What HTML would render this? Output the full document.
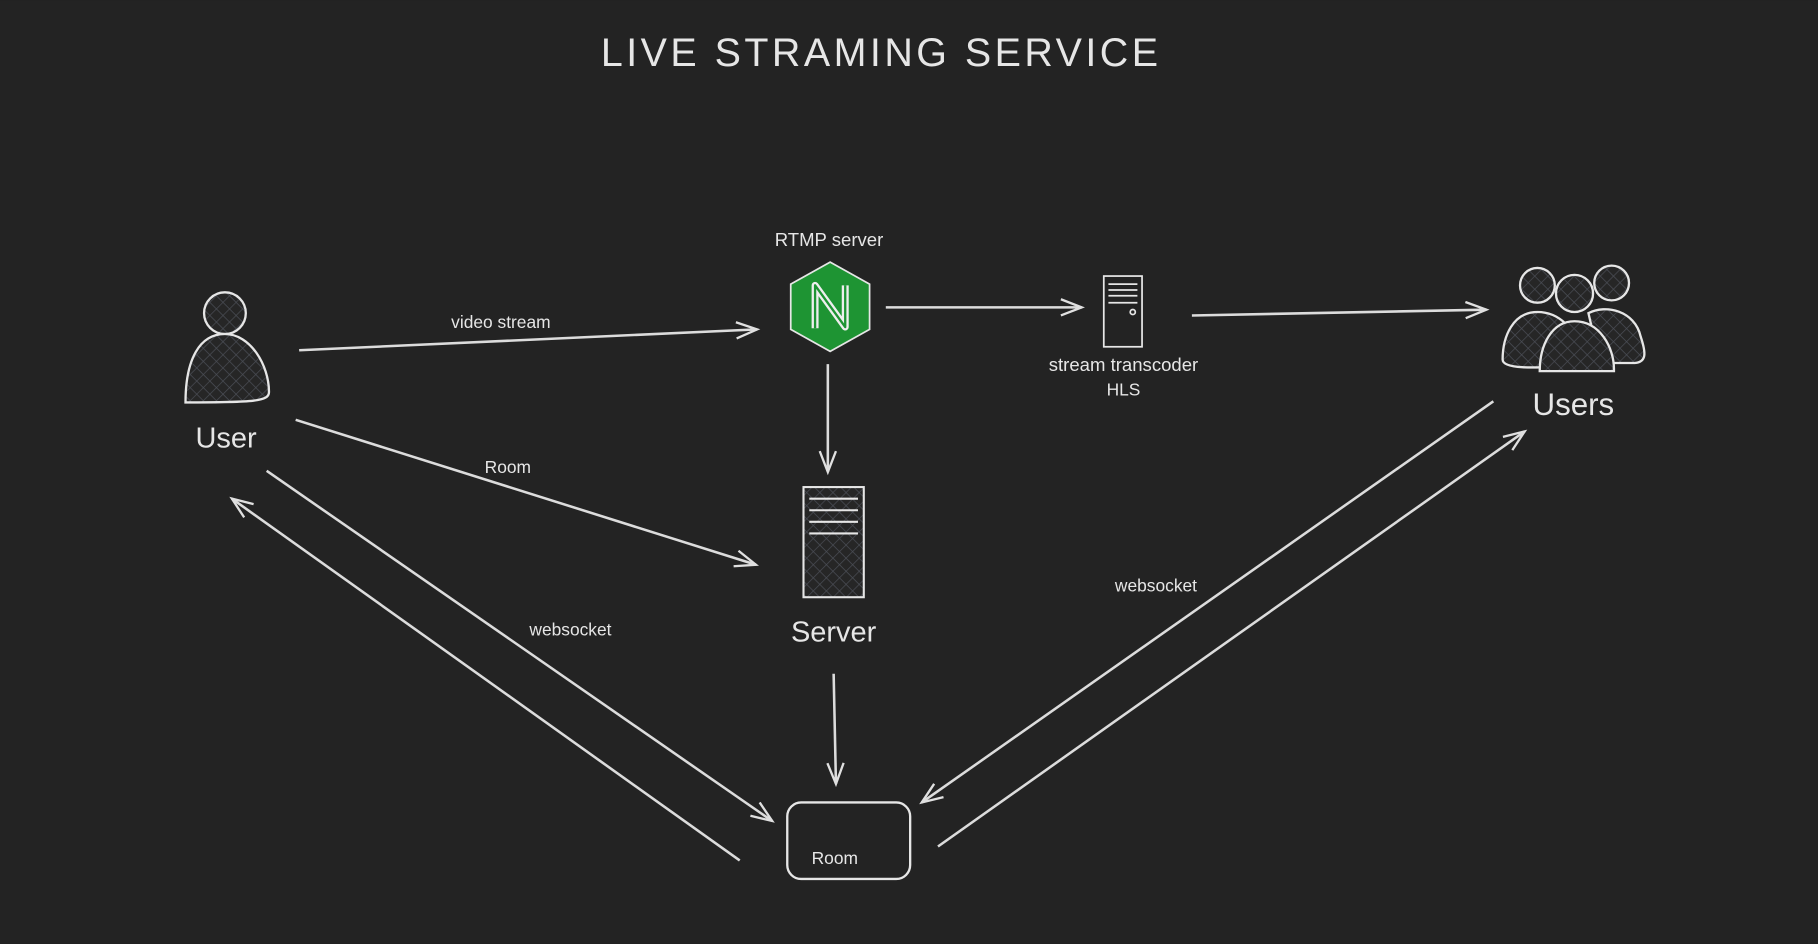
<!DOCTYPE html>
<html><head><meta charset="utf-8"><style>
html,body{margin:0;padding:0;background:#232323;}
svg{display:block}
text{font-family:"Liberation Sans",sans-serif;fill:#e6e6e6}
</style></head><body>
<svg width="1818" height="944" viewBox="0 0 1568 814" xmlns="http://www.w3.org/2000/svg">
<defs>
<pattern id="h" width="8" height="8" patternUnits="userSpaceOnUse" patternTransform="rotate(45)">
<rect width="8" height="8" fill="#262626"/>
<path d="M0 0H8M0 0V8" stroke="#4a4d55" stroke-width="1.2"/>
</pattern>
<marker id="a" markerUnits="userSpaceOnUse" markerWidth="24" markerHeight="20" refX="20" refY="8" orient="auto">
<path d="M2 1 L20 8 L2 15" fill="none" stroke="#e0e0e0" stroke-width="2"/>
</marker>
</defs>
<rect width="1568" height="814" fill="#232323"/>
<text x="760" y="57" font-size="34" text-anchor="middle" letter-spacing="3">LIVE STRAMING SERVICE</text>

<g stroke="#dcdcdc" stroke-width="2.2" fill="none" marker-end="url(#a)">
<line x1="258" y1="302" x2="653" y2="284"/>
<line x1="255" y1="362" x2="652" y2="487"/>
<line x1="230" y1="406" x2="666" y2="708"/>
<line x1="638" y1="742" x2="200" y2="430"/>
<line x1="764" y1="265" x2="933" y2="265"/>
<line x1="714" y1="314" x2="714" y2="407"/>
<line x1="1028" y1="272" x2="1282" y2="267"/>
<line x1="719" y1="581" x2="721" y2="676"/>
<line x1="1288" y1="346" x2="795" y2="692"/>
<line x1="809" y1="730" x2="1315" y2="372"/>
</g>
<text x="432" y="283" font-size="15" text-anchor="middle">video stream</text>
<text x="438" y="408" font-size="15" text-anchor="middle">Room</text>
<text x="492" y="548" font-size="15" text-anchor="middle">websocket</text>
<text x="997" y="510" font-size="15" text-anchor="middle">websocket</text>

<g stroke="#e6e6e6" stroke-width="2" fill="url(#h)">
<circle cx="194" cy="270" r="18"/>
<path d="M160 347 C160 310 172 288 194 288 C216 288 232 315 232 338 C232 346 220 347 160 347 Z"/>
</g>
<text x="195" y="386" font-size="25" text-anchor="middle">User</text>

<text x="715" y="212" font-size="16" text-anchor="middle">RTMP server</text>
<polygon points="716,226 750,245 750,284 716,303 682,284 682,245" fill="#1e9433" stroke="#e6e6e6" stroke-width="1.5"/>
<path d="M703 283 V246 L729 282 V246" fill="none" stroke="#eee" stroke-width="6" stroke-linejoin="round"/>
<path d="M703 283 V246 L729 282 V246" fill="none" stroke="#1e9433" stroke-width="2" stroke-linejoin="round"/>

<g stroke="#e6e6e6" stroke-width="1.5" fill="none">
<rect x="952" y="238" width="33" height="61"/>
<line x1="956" y1="245" x2="981" y2="245"/><line x1="956" y1="250" x2="981" y2="250"/>
<line x1="956" y1="255" x2="981" y2="255"/><line x1="956" y1="261" x2="981" y2="261"/>
<circle cx="977" cy="269" r="2.2"/>
</g>
<text x="969" y="320" font-size="16" text-anchor="middle">stream transcoder</text>
<text x="969" y="341" font-size="15" text-anchor="middle">HLS</text>

<rect x="693" y="420" width="52" height="95" fill="url(#h)" stroke="#e6e6e6" stroke-width="1.8"/>
<g stroke="#e6e6e6" stroke-width="1.8">
<line x1="698" y1="430" x2="740" y2="430"/><line x1="698" y1="440" x2="740" y2="440"/>
<line x1="698" y1="450" x2="740" y2="450"/><line x1="698" y1="460" x2="740" y2="460"/>
</g>
<text x="719" y="553" font-size="25" text-anchor="middle">Server</text>

<g stroke="#e6e6e6" stroke-width="2" fill="url(#h)">
<circle cx="1326" cy="246" r="15"/>
<circle cx="1390" cy="244" r="15"/>
<path d="M1296 310 C1296 290 1305 269 1326 269 C1345 269 1360 285 1360 300 L1360 315 C1320 318 1296 318 1296 310Z"/>
<path d="M1370 270 C1385 262 1410 268 1415 290 C1420 305 1420 312 1410 313 L1380 313 Z"/>
<circle cx="1358" cy="253" r="16"/>
<path d="M1328 320 C1328 298 1338 277 1358 277 C1380 277 1392 300 1392 318 L1392 320 Z"/>
</g>
<text x="1357" y="358" font-size="27" text-anchor="middle">Users</text>

<rect x="679" y="692" width="106" height="66" rx="12" fill="none" stroke="#e6e6e6" stroke-width="2"/>
<text x="720" y="745" font-size="15" text-anchor="middle">Room</text>
</svg>
</body></html>
